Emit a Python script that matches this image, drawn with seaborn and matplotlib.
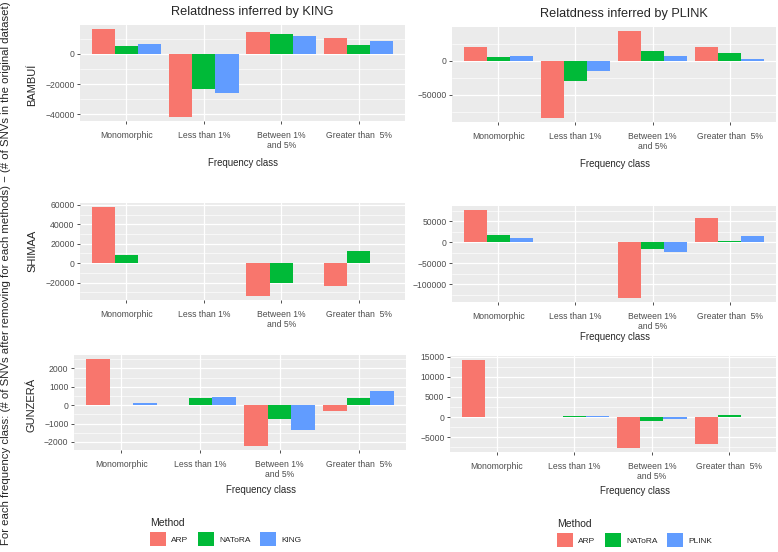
import matplotlib
matplotlib.use("Agg")
import matplotlib.pyplot as plt
import pandas as pd
import seaborn as sns
from matplotlib.patches import Patch
from matplotlib.ticker import FuncFormatter, MultipleLocator

W, H = 778, 552

CLASSES = ["Monomorphic", "Less than 1%", "Between 1%\nand 5%", "Greater than  5%"]
POPULATIONS = ["BAMBUÍ", "SHIMAA", "GUNZERÁ"]
COLOURS = ["#F8766D", "#00BA38", "#619CFF"]

# difference in SNV counts per frequency class, relatedness inferred by KING
bambui_king_arp = [16200, -41600, 14700, 10700]
bambui_king_natora = [5100, -23300, 12900, 6000]
bambui_king_king = [6700, -26200, 11600, 8200]
shimaa_king_arp = [57500, -300, -33400, -23700]
shimaa_king_natora = [8000, -200, -20200, 12500]
shimaa_king_king = [0, -100, 0, 0]
gunzera_king_arp = [2490, -10, -2200, -320]
gunzera_king_natora = [-15, 400, -760, 380]
gunzera_king_king = [140, 450, -1370, 775]

# same, relatedness inferred by PLINK
bambui_plink_arp = [20100, -84000, 43000, 20600]
bambui_plink_natora = [5400, -30400, 14700, 11800]
bambui_plink_plink = [7400, -15700, 7400, 2500]
shimaa_plink_arp = [75400, -500, -131700, 57100]
shimaa_plink_natora = [15900, -300, -16700, 2400]
shimaa_plink_plink = [9500, -300, -23000, 15100]
gunzera_plink_arp = [14100, 20, -7600, -6600]
gunzera_plink_natora = [-100, 330, -900, 500]
gunzera_plink_plink = [-50, 330, -500, -50]

KING_METHODS = ["ARP", "NAToRA", "KING"]
PLINK_METHODS = ["ARP", "NAToRA", "PLINK"]


def long_table(methods, series):
    rows = []
    for pop, per_method in zip(POPULATIONS, series):
        for method, values in zip(methods, per_method):
            for cls, v in zip(CLASSES, values):
                rows.append({"Population": pop, "Method": method, "Class": cls, "Difference": v})
    return pd.DataFrame(rows)


king_df = long_table(KING_METHODS, [
    (bambui_king_arp, bambui_king_natora, bambui_king_king),
    (shimaa_king_arp, shimaa_king_natora, shimaa_king_king),
    (gunzera_king_arp, gunzera_king_natora, gunzera_king_king),
])
plink_df = long_table(PLINK_METHODS, [
    (bambui_plink_arp, bambui_plink_natora, bambui_plink_plink),
    (shimaa_plink_arp, shimaa_plink_natora, shimaa_plink_plink),
    (gunzera_plink_arp, gunzera_plink_natora, gunzera_plink_plink),
])

sns.set_style("darkgrid", {"axes.facecolor": "#EBEBEB", "grid.color": "white",
                           "axes.edgecolor": "#EBEBEB"})
plt.rcParams["font.family"] = ["Liberation Sans", "DejaVu Sans"]

fig = plt.figure(figsize=(W / 100, H / 100), dpi=100)


def px_axes(x0, y0, x1, y1):
    return fig.add_axes([x0 / W, 1 - y1 / H, (x1 - x0) / W, (y1 - y0) / H])


minus_fmt = FuncFormatter(lambda v, _: f"{v:.0f}".replace("-", "\u2212"))

columns = [
    (king_df, KING_METHODS, "Relatdness inferred by KING", (252, 12),
     [(80, 25, 405, 121), (80, 203, 405, 300), (74, 355, 406, 450)],
     [(243, 163), None, (261, 490)],
     [20000, 20000, 1000], True),
    (plink_df, PLINK_METHODS, "Relatdness inferred by PLINK", (624, 14),
     [(452, 27, 776, 122), (452, 206, 776, 302), (450, 356, 776, 452)],
     [(615, 164), (615, 337), (635, 491)],
     [50000, 50000, 5000], False),
]
row_label_y = [85, 251, 405]

for df, methods, title, title_xy, rects, xlabels, steps, show_rows in columns:
    fig.text(title_xy[0] / W, 1 - title_xy[1] / H, title, ha="center", va="center",
             fontsize=9.2)
    for i, pop in enumerate(POPULATIONS):
        ax = px_axes(*rects[i])
        sub = df[df["Population"] == pop]
        sns.barplot(data=sub, x="Class", y="Difference", hue="Method", order=CLASSES,
                    hue_order=methods, palette=COLOURS, width=0.9, gap=0,
                    errorbar=None, linewidth=0, saturation=1, legend=False, ax=ax)
        lo, hi = sub["Difference"].min(), sub["Difference"].max()
        pad = (hi - lo) * 0.05
        ax.set_ylim(lo - pad, hi + pad)
        ax.set_xlim(-0.6, 3.6)
        ax.yaxis.set_major_locator(MultipleLocator(steps[i]))
        ax.yaxis.set_minor_locator(MultipleLocator(steps[i] / 2))
        ax.yaxis.set_major_formatter(minus_fmt)
        ax.grid(which="major", color="white", lw=0.9)
        ax.grid(which="minor", axis="y", color="white", lw=0.45)
        ax.xaxis.grid(True)
        for s in ax.spines.values():
            s.set_visible(False)
        ax.tick_params(which="major", bottom=True, left=True, length=2, width=0.6,
                       color="#333333", labelcolor="#4D4D4D", labelsize=6.2)
        ax.tick_params(axis="x", pad=5)
        ax.tick_params(axis="y", pad=2)
        ax.tick_params(which="minor", length=0)
        if xlabels[i] is not None:
            ax.set_xlabel("Frequency class", fontsize=6.9, va="center")
            ax.xaxis.set_label_coords(xlabels[i][0] / W, 1 - xlabels[i][1] / H,
                                      transform=fig.transFigure)
        else:
            ax.set_xlabel("")
        if show_rows:
            ax.set_ylabel(pop, fontsize=8, va="center")
            ax.yaxis.set_label_coords(32 / W, 1 - row_label_y[i] / H,
                                      transform=fig.transFigure)
        else:
            ax.set_ylabel("")

fig.text(6 / W, 1 - 273 / H,
         "For each frequency class: (# of SNVs after removing for each methods) \u2212 "
         "(# of SNVs in the original dataset)",
         rotation=90, ha="center", va="center", fontsize=8.2)

for methods, anchor in [(KING_METHODS, (150, 518)), (PLINK_METHODS, (557, 519))]:
    handles = [Patch(facecolor=c, edgecolor="none") for c in COLOURS]
    fig.legend(handles, methods, title="Method", loc="upper left",
               bbox_to_anchor=(anchor[0] / W, 1 - anchor[1] / H), ncol=3,
               frameon=False, fontsize=6, title_fontsize=7.5, handlelength=1.9,
               handleheight=2.2, handletextpad=0.6, columnspacing=1.2,
               borderpad=0, borderaxespad=0, alignment="left")

fig.savefig("out.png", dpi=100)
